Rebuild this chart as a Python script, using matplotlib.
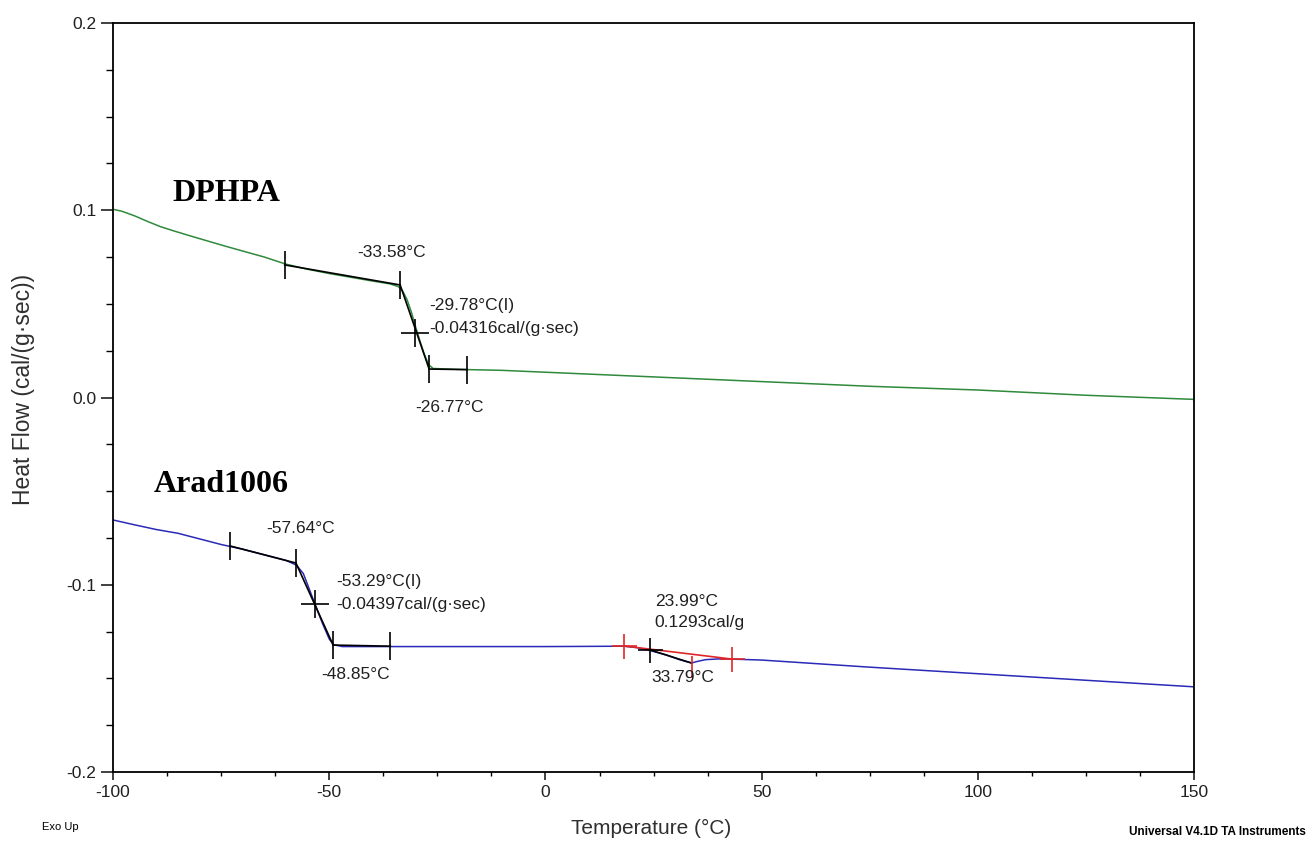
import matplotlib
matplotlib.use("Agg")
import matplotlib.pyplot as plt
from matplotlib.ticker import MultipleLocator, FormatStrFormatter

# ======================================================================================================================
# DSC traces (temperature in C, heat flow in cal/(g*sec))
dphpa_temp = [-100, -98, -95, -92, -89, -86, -82, -78, -74, -70, -65, -60, -55, -50, -45, -40, -36, -34, -33,
              -32, -31, -30, -29, -28, -27, -26, -20, -10, 0, 25, 50, 75, 100, 125, 150]
dphpa_flow = [0.1005, 0.0995, 0.0970, 0.0940, 0.0912, 0.0890, 0.0862, 0.0835, 0.0808, 0.0782, 0.0750, 0.0712,
              0.0685, 0.0662, 0.0642, 0.0622, 0.0607, 0.0592, 0.0568, 0.0522, 0.0455, 0.0375, 0.0300, 0.0230,
              0.0175, 0.0155, 0.0150, 0.0145, 0.0135, 0.0110, 0.0085, 0.0060, 0.0040, 0.0012, -0.0010]

arad_temp = [-100, -95, -90, -85, -80, -75, -70, -65, -60, -57.6, -56, -55, -53.3, -51.5, -50, -49, -47, -40, -30,
             -10, 0, 10, 18, 21, 24, 28, 31, 33.8, 35, 37, 40, 43, 50, 75, 100, 125, 150]
arad_flow = [-0.0654, -0.0680, -0.0705, -0.0725, -0.0755, -0.0785, -0.0810, -0.0840, -0.0870, -0.0895, -0.0940,
             -0.1000, -0.1103, -0.1210, -0.1290, -0.1320, -0.1330, -0.1330, -0.1330, -0.1330, -0.1330, -0.1329,
             -0.1328, -0.1335, -0.1350, -0.1375, -0.1400, -0.1418, -0.1410, -0.1400, -0.1396, -0.1397, -0.1402,
             -0.1440, -0.1475, -0.1510, -0.1545]

# analysis markers (onset / midpoint / end) and construction lines
dphpa_marks_t = [-60.3, -33.6, -30.2, -26.9, -18.1]
dphpa_marks_f = [0.0708, 0.0601, 0.0344, 0.0152, 0.0149]
arad_marks_t = [-72.9, -57.7, -53.3, -49.1, -35.9]
arad_marks_f = [-0.0793, -0.0884, -0.1103, -0.1322, -0.1328]
peak_base_t = [18.2, 43.2]
peak_base_f = [-0.1327, -0.1397]
peak_onset = (24.2, -0.1348)
peak_max = (33.8, -0.1418)

labels = [
    ("-33.58\u00b0C", -35.5, 0.0772, "center"),
    ("-29.78\u00b0C(I)", -26.9, 0.0489, "left"),
    ("-0.04316cal/(g\u00b7sec)", -26.9, 0.0371, "left"),
    ("-26.77\u00b0C", -22.3, -0.0056, "center"),
    ("-57.64\u00b0C", -56.7, -0.0702, "center"),
    ("-53.29\u00b0C(I)", -48.4, -0.0985, "left"),
    ("-0.04397cal/(g\u00b7sec)", -48.4, -0.1108, "left"),
    ("-48.85\u00b0C", -44.0, -0.1477, "center"),
    ("23.99\u00b0C", 25.3, -0.1087, "left"),
    ("0.1293cal/g", 25.3, -0.1199, "left"),
    ("33.79\u00b0C", 31.8, -0.1493, "center"),
]
# ======================================================================================================================

plt.rcParams['font.family'] = ['Liberation Sans', 'DejaVu Sans']
plt.rcParams['axes.unicode_minus'] = False

fig = plt.figure(figsize=(13.1, 8.42), dpi=100)
ax = fig.add_axes([0.0863, 0.0831, 0.8252, 0.8896])

green = '#2f8a3c'
blue = '#2a2ab8'
red = '#e02828'

ax.plot(dphpa_temp, dphpa_flow, color=green, lw=1.1)
ax.plot(arad_temp, arad_flow, color=blue, lw=1.1)

# construction lines for the glass transitions
for mt, mf in [(dphpa_marks_t, dphpa_marks_f), (arad_marks_t, arad_marks_f)]:
    ax.plot(mt[:2], mf[:2], color='black', lw=1.2)
    ax.plot([mt[1], mt[3]], [mf[1], mf[3]], color='black', lw=1.2)
    ax.plot(mt[3:], mf[3:], color='black', lw=1.2)
    ax.plot([mt[0], mt[1], mt[3], mt[4]], [mf[0], mf[1], mf[3], mf[4]], ls='none', marker='|',
            markersize=20, mew=1.2, color='black')
    ax.plot(mt[2], mf[2], ls='none', marker='+', markersize=20, mew=1.2, color='black')

# endothermic peak integration
ax.plot(peak_base_t, peak_base_f, color=red, lw=1.2)
ax.plot(peak_base_t, peak_base_f, ls='none', marker='+', markersize=18, mew=1.2, color=red)
ax.plot([peak_onset[0], peak_max[0]], [peak_onset[1], peak_max[1]], color='black', lw=1.2)
ax.plot(peak_onset[0], peak_onset[1], ls='none', marker='+', markersize=18, mew=1.2, color='black')
ax.plot(peak_max[0], peak_max[1] - 0.002, ls='none', marker='|', markersize=16, mew=1.2, color=red)

for txt, tx, ty, ha in labels:
    ax.text(tx, ty, txt, ha=ha, va='center', fontsize=12.5, color='#202020')

ax.text(-73.9, 0.109, "DPHPA", fontsize=23, fontweight='bold', family='Liberation Serif', ha='center', va='center')
ax.text(-75.0, -0.0467, "Arad1006", fontsize=23, fontweight='bold', family='Liberation Serif',
        ha='center', va='center')

ax.set_xlim(-100, 150)
ax.set_ylim(-0.2, 0.2)
ax.xaxis.set_major_locator(MultipleLocator(50))
ax.xaxis.set_minor_locator(MultipleLocator(12.5))
ax.yaxis.set_major_locator(MultipleLocator(0.1))
ax.yaxis.set_minor_locator(MultipleLocator(0.025))
ax.yaxis.set_major_formatter(FormatStrFormatter('%.1f'))
ax.tick_params(axis='x', which='major', direction='out', length=6, width=1.2, labelsize=12.5,
               colors='#202020', pad=3)
ax.tick_params(axis='x', which='minor', direction='out', length=3, width=1.0)
ax.tick_params(axis='y', which='major', direction='out', length=9, width=1.2, labelsize=12.5,
               colors='#202020', pad=3)
ax.tick_params(axis='y', which='minor', direction='out', length=5, width=1.0)
for s in ax.spines.values():
    s.set_linewidth(1.3)

ax.set_xlabel("Temperature (\u00b0C)", fontsize=15, color='#303030')
ax.xaxis.label.set_va('center')
ax.xaxis.set_label_coords(0.498, -0.075)
ax.set_ylabel("Heat Flow (cal/(g\u00b7sec))", fontsize=16.5, color='#303030')
ax.yaxis.label.set_va('center')
ax.yaxis.set_label_coords(-0.083, 0.511)

fig.text(0.046, 0.018, "Exo Up", fontsize=8, ha='center', va='center')
fig.text(0.997, 0.012, "Universal V4.1D TA Instruments", fontsize=8.5, ha='right', va='center',
         fontweight='bold')

fig.savefig("out.png", dpi=100)
